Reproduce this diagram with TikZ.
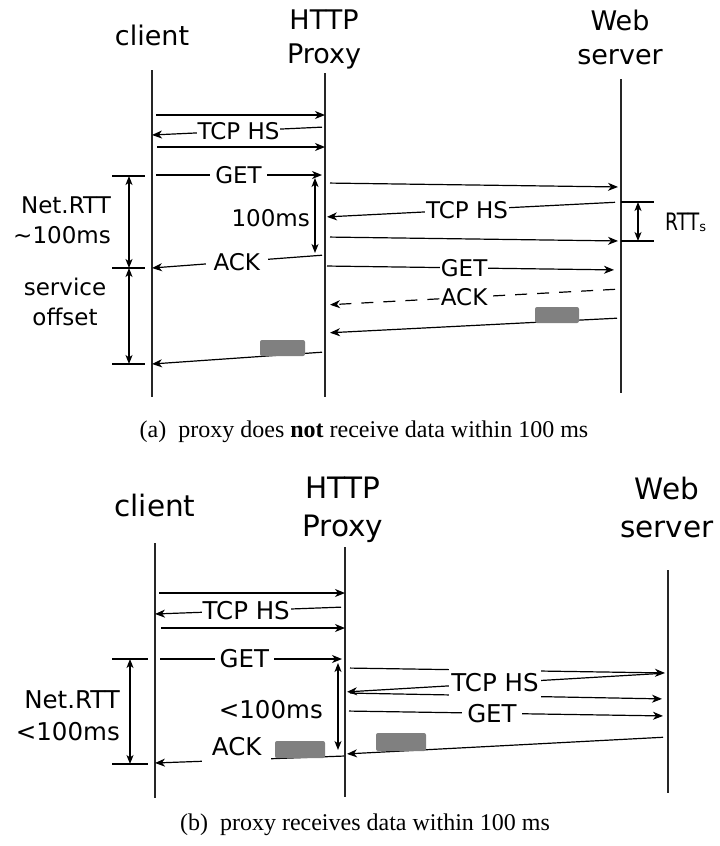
\documentclass[tikz,border=0pt]{standalone}
\usepackage{fontspec}
\setmainfont{DejaVu Sans}
\newfontfamily\capfont{Liberation Serif}
\usetikzlibrary{arrows.meta}

\begin{document}
\begin{tikzpicture}[x=1pt, y=-1pt,
  title/.style={font=\fontsize{27}{34}\selectfont, align=center, inner sep=0pt},
  titleB/.style={font=\fontsize{29.5}{38}\selectfont, align=center, inner sep=0pt},
  txt/.style={font=\fontsize{23}{30}\selectfont, inner sep=0pt},
  txtB/.style={font=\fontsize{24.5}{32}\selectfont, inner sep=0pt},
  lbl/.style={fill=white, inner xsep=1pt, inner ysep=1pt, font=\fontsize{23}{28}\selectfont},
  lblB/.style={lbl, font=\fontsize{24.5}{30}\selectfont},
  life/.style={line width=1.3pt, black!85},
  msg/.style={-{Stealth[length=10pt,width=8pt,inset=3pt]}, line width=1.2pt, shorten <=4pt},
  dim/.style={{Stealth[length=9pt,width=7pt,inset=2.5pt]}-{Stealth[length=9pt,width=7pt,inset=2.5pt]}, line width=1.2pt},
  bar/.style={line width=1.2pt},
  pkt/.style={fill=black!50, rounded corners=2pt, inner sep=0pt},
  captxt/.style={font=\capfont\fontsize{24}{28}\selectfont}
]
\useasboundingbox (0,0) rectangle (720,846);

% (a) proxy does not receive data within 100 ms
\node[title] (clientA) at (152,35) {client};
\node[title] (proxyA) at (324,39) {HTTP\\Proxy};
\node[title] (serverA) at (620,37) {Web\\server};
\draw[life] (152,70) coordinate (cA) -- (152,397);
\draw[life] (325,73) coordinate (pA) -- (325,397);
\draw[life] (621,79) coordinate (sA) -- (621,393);

% client <-> proxy
\draw[msg] (cA |- 0,115) -- (pA |- 0,115);
\draw[msg, shorten <=3pt] (pA |- 0,127) -- node[lbl]{TCP HS} (cA |- 0,135);
\draw[msg, shorten <=5pt] (cA |- 0,147) -- (pA |- 0,147);
\draw[msg, shorten >=3pt] (cA |- 0,175) -- node[lbl, inner xsep=5pt]{GET} (pA |- 0,175);
\draw[msg, shorten <=3pt] (pA |- 0,255) -- node[lbl, pos=0.51, inner xsep=8pt]{ACK} (cA |- 0,268);
\draw[msg, shorten <=3pt] (pA |- 0,352) -- (cA |- 0,364);
\node[pkt, minimum width=45pt, minimum height=16pt] (pktA1) at (282.5,348) {};

% proxy <-> server
\draw[msg, shorten <=5pt, shorten >=3pt] (pA |- 0,183) -- (sA |- 0,187);
\draw[msg, shorten <=6pt, shorten >=2pt] (sA |- 0,202) -- node[lbl, pos=0.52]{TCP HS} (pA |- 0,217);
\draw[msg, shorten <=5pt, shorten >=3pt] (pA |- 0,237) -- (sA |- 0,241);
\draw[msg, shorten <=2pt, shorten >=7pt] (pA |- 0,266) -- node[lbl, pos=0.47]{GET} (sA |- 0,270);
\draw[msg, dash pattern=on 12pt off 10pt, shorten <=6pt, shorten >=5pt] (sA |- 0,289) -- node[lbl, pos=0.53]{ACK} (pA |- 0,305);
\draw[msg, shorten <=4pt, shorten >=5pt] (sA |- 0,318) -- (pA |- 0,333);
\node[pkt, minimum width=44pt, minimum height=16pt] (pktA2) at (557,315) {};

% timings
\draw[dim] (315,178) -- (315,253);
\node[txt, anchor=east] (msA) at (310,218) {100ms};
\draw[bar] (112,176) -- (145,176);
\draw[bar] (112,268) -- (145,268);
\draw[bar] (112,364) -- (145,364);
\draw[dim] (129,176) -- (129,268);
\draw[dim] (129,268) -- (129,364);
\node[txt, align=right, anchor=east] (rttA) at (111,220) {Net.RTT\\\textasciitilde100ms};
\node[txt, align=center] (offA) at (65,302) {service\\offset};
\draw[bar] (621,202) -- (654,202);
\draw[bar] (621,241) -- (654,241);
\draw[dim] (638,202) -- (638,241);
\node[txt, anchor=west, font=\fontsize{24}{28}\selectfont] (rttsA) at (665,222) {\scalebox{0.78}[1]{RTT}\raisebox{-1pt}{\fontsize{13}{13}\selectfont s}};

\node[captxt] (capA) at (364,432) {(a)\enspace proxy does \textbf{not} receive data within 100 ms};

% (b) proxy receives data within 100 ms
\node[titleB] (clientB) at (155,505) {client};
\node[titleB] (proxyB) at (343,510) {HTTP\\Proxy};
\node[titleB] (serverB) at (667,507) {Web\\server};
\draw[life] (155,543) coordinate (cB) -- (155,798);
\draw[life] (345,547) coordinate (pB) -- (345,797);
\draw[life] (668,570) coordinate (sB) -- (668,793);

% client <-> proxy
\draw[msg] (cB |- 0,593) -- (pB |- 0,593);
\draw[msg] (pB |- 0,607) -- node[lblB, pos=0.52]{TCP HS} (cB |- 0,614);
\draw[msg, shorten <=6pt] (cB |- 0,628) -- (pB |- 0,628);
\draw[msg, shorten <=5pt, shorten >=3pt] (cB |- 0,659) -- node[lblB, pos=0.47, inner xsep=5pt]{GET} (pB |- 0,659);
\draw[msg, shorten <=1pt] (pB |- 0,756) -- node[lblB, pos=0.57, yshift=13pt, minimum height=36pt, inner xsep=10pt]{ACK} (cB |- 0,763);
\node[pkt, minimum width=50pt, minimum height=17pt] (pktB1) at (300,749.5) {};

% proxy <-> server
\draw[msg, shorten <=5pt, shorten >=3pt] (pB |- 0,668) -- (sB |- 0,673);
\draw[msg, shorten <=5pt, shorten >=2pt] (sB |- 0,673) -- (pB |- 0,692);
\draw[msg, shorten <=5pt, shorten >=6pt] (pB |- 0,693) -- (sB |- 0,699);
\node[lblB, minimum height=34pt, inner xsep=2pt] (hsB) at (495,683) {TCP HS};
\draw[msg, shorten <=4pt, shorten >=5pt] (pB |- 0,711) -- node[lblB, pos=0.455, inner xsep=5pt]{GET} (sB |- 0,716);
\draw[msg, shorten <=5pt, shorten >=2pt] (sB |- 0,737) -- (pB |- 0,754);
\node[pkt, minimum width=50pt, minimum height=18pt] (pktB2) at (401,742) {};

% timings
\draw[dim] (338,663) -- (338,750);
\node[txtB, anchor=east] (msB) at (323,710) {<100ms};
\draw[bar] (112,659) -- (148,659);
\draw[bar] (112,764) -- (148,764);
\draw[dim] (130,659) -- (130,764);
\node[txtB, align=right, anchor=east] (rttB) at (120,716) {Net.RTT\\<100ms};

\node[captxt] (capB) at (365,825) {(b)\enspace proxy receives data within 100 ms};
\end{tikzpicture}
\end{document}
